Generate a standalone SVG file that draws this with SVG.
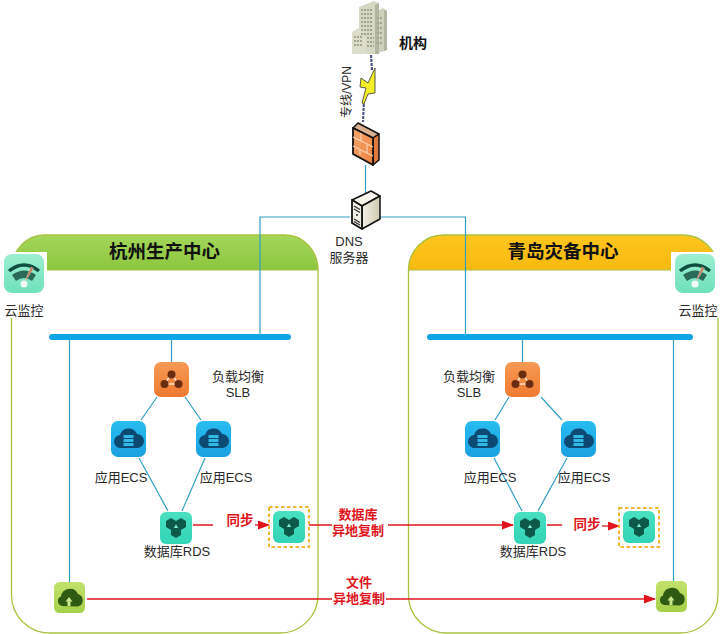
<svg xmlns="http://www.w3.org/2000/svg" width="720" height="634" viewBox="0 0 720 634">
<style>
text{font-family:"Liberation Sans","Noto Sans CJK SC",sans-serif;font-size:13px;fill:#2a2a2a;text-anchor:middle}
.h{font-size:18.5px;font-weight:700;fill:#111}
.r{font-size:13px;font-weight:700;fill:#e0141c}
.box{fill:none;stroke:#a9c23f;stroke-width:1.3}
.c{fill:none;stroke:#2f9fc4;stroke-width:1.2}
.bus{stroke:#0ea5e6;stroke-width:6;stroke-linecap:round}
.red{fill:none;stroke:#dd1a1f;stroke-width:1.3}
.arrow{fill:none;stroke:#dd1a1f;stroke-width:1.3;marker-end:url(#ah)}
.dash{fill:none;stroke:#f2b632;stroke-width:2;stroke-dasharray:3.5 2.5}
</style>
<defs>
<marker id="ah" markerUnits="userSpaceOnUse" markerWidth="12" markerHeight="9" refX="11" refY="4.5" orient="auto"><path d="M0 0L12 4.5L0 9z" fill="#e0141c"/></marker>
<linearGradient id="gG" x1="0" y1="0" x2="0" y2="1"><stop offset="0" stop-color="#a4d65a"/><stop offset="1" stop-color="#8cc63f"/></linearGradient>
<linearGradient id="gY" x1="0" y1="0" x2="0" y2="1"><stop offset="0" stop-color="#ffc61e"/><stop offset="1" stop-color="#f7b90f"/></linearGradient>
<linearGradient id="gO" x1="0" y1="0" x2="0" y2="1"><stop offset="0" stop-color="#f79a55"/><stop offset="1" stop-color="#ef7a30"/></linearGradient>
<linearGradient id="gB" x1="0" y1="0" x2="0" y2="1"><stop offset="0" stop-color="#29bdf0"/><stop offset="1" stop-color="#1aa0e0"/></linearGradient>
<linearGradient id="gT" x1="0" y1="0" x2="0" y2="1"><stop offset="0" stop-color="#48e0c0"/><stop offset="1" stop-color="#33d4b8"/></linearGradient>
<linearGradient id="gL" x1="0" y1="0" x2="0" y2="1"><stop offset="0" stop-color="#c2e26c"/><stop offset="1" stop-color="#a5d04a"/></linearGradient>
<linearGradient id="gM" x1="0" y1="0" x2="0" y2="1"><stop offset="0" stop-color="#9cefd0"/><stop offset="1" stop-color="#6fe0bc"/></linearGradient>
<linearGradient id="gF" x1="0" y1="0" x2="1" y2="1"><stop offset="0" stop-color="#f6a56c"/><stop offset="1" stop-color="#ee8240"/></linearGradient>
<linearGradient id="gS" x1="0" y1="0" x2="1" y2="0"><stop offset="0" stop-color="#f3f1e6"/><stop offset="1" stop-color="#cfc9b0"/></linearGradient>
<symbol id="slb" viewBox="0 0 35 35" overflow="visible">
<rect width="35" height="35" rx="7" fill="url(#gO)"/>
<path d="M17.500 12L10.500 22H24.500z" fill="none" stroke="#fbe3d2" stroke-width="1.500"/>
<circle cx="17.500" cy="12.500" r="4" fill="#6b2c10"/><circle cx="10.500" cy="22" r="4" fill="#6b2c10"/><circle cx="24.500" cy="22" r="4" fill="#6b2c10"/>
</symbol>
<symbol id="ecs" viewBox="0 0 35 36" overflow="visible">
<rect width="35" height="36" rx="7" fill="url(#gB)"/>
<path d="M10 27a6.500 6.500 0 0 1-1-13a9 9 0 0 1 17-1a7 7 0 0 1 0 14z" fill="#0d4a73"/>
<path d="M12.500 14h10v3h-10zM12.500 18h10v3h-10zM12.500 22h10v3h-10z" fill="#31b9e8"/>
</symbol>
<symbol id="rds" viewBox="0 0 32 32" overflow="visible">
<rect width="32" height="32" rx="6" fill="url(#gT)"/>
<path d="M11 6l5 3v6l-5 3-5-3V9zM21 6l5 3v6l-5 3-5-3V9zM16 14l5 3v6l-5 3-5-3v-6z" fill="#0e5a4a"/>
<path d="M16 12.500l2.200 3.500h-4.400z" fill="#7fead2"/>
</symbol>
<symbol id="oss" viewBox="0 0 31 31" overflow="visible">
<rect width="31" height="31" rx="5.500" fill="url(#gL)"/>
<path d="M8 24a5 5 0 0 1-1-9.500a9 9 0 0 1 17-2.500a6.500 6.500 0 0 1 0 12.500z" fill="#2f5a12"/>
<path d="M15 15l3.500 4.500h-2v4.500h-3v-4.500h-2z" fill="#c8e68a"/>
</symbol>
<symbol id="mon" viewBox="0 0 40 40" overflow="visible">
<rect width="40" height="39" rx="8" fill="url(#gM)"/>
<path d="M5 17Q20 5 35 17" fill="none" stroke="#0f4f3f" stroke-width="3.500"/>
<path d="M8 21Q20 12 32 21L28 27Q20 21 12 27z" fill="#2a6a58"/>
<path d="M20 29L27 13L29.500 14.500z" fill="#c9785a" stroke="#e8d0c0" stroke-width=".5"/>
<circle cx="20" cy="30" r="3.500" fill="#f3fbf7"/>
</symbol>
</defs>
<rect width="720" height="634" fill="#fff"/>

<g id="hangzhou">
<path d="M11.500 270A33 35 0 0 1 45 235H285A33 35 0 0 1 318 270z" fill="url(#gG)"/>
<path class="box" d="M45 235H285A33 35 0 0 1 318 270V595A38 38 0 0 1 280 633H50A38 38 0 0 1 11.500 595V270A33 35 0 0 1 45 235z"/>
<path d="M11.500 270H318" stroke="#a9c23f" stroke-width="1"/>
<text class="h" x="164.500" y="258">杭州生产中心</text>
</g>
<g id="qingdao">
<path d="M408.500 270A35 35 0 0 1 444 235H683A35 35 0 0 1 718 270z" fill="url(#gY)"/>
<path class="box" d="M444 235H683A35 35 0 0 1 718 270V595A38 38 0 0 1 680 633H447A38 38 0 0 1 408.500 595V270A35 35 0 0 1 444 235z"/>
<path d="M408.500 270H718" stroke="#a9c23f" stroke-width="1"/>
<text class="h" x="563" y="258">青岛灾备中心</text>
</g>

<g id="connectors">
<path class="c" d="M365.500 165V195M350 217H260V337M380 217H465.500V337"/>
<path d="M371 55L372 70M364 100L363 122" fill="none" stroke="#4f5488" stroke-width="2.200" stroke-dasharray="3 1"/>
<path class="c" d="M171.500 340V362M157 397L141 420M185 397L201 420M139 458L168 511M205 458L182 511M69.500 340V582"/>
<path class="c" d="M522.500 340V362M509 397L495 420M541 397L562 420M494 458L522 511M567 458L538 511M673.500 340V581"/>
<path class="bus" d="M52 337H288M430 337H690"/>
<path class="red" d="M193 525H213M309 525H332M388 525H400M87 599H332M386 599H400M547 525H562"/>
<path class="arrow" d="M255 525H269"/>
<path class="arrow" d="M400 525H513"/>
<path class="arrow" d="M400 599H655"/>
<path class="arrow" d="M602 526H619"/>
</g>

<g id="building">
<path d="M359 7L374 1L379 3V54H359z" fill="#d6d8c4"/>
<path d="M375 12L383 8L387 11V50L375 54z" fill="#cfd1bd"/>
<path d="M352 32L360 27L366 29V54H352z" fill="#dcdecb"/>
<path d="M379 3V54H375V5z" fill="#b3b5a3"/>
<path d="M384 10L387 11V50L384 51z" fill="#b3b5a3"/>
<path d="M361 10h12M361 14h12M361 18h12M361 22h12M361 26h12M361 30h12M361 34h12M367 38h7M367 42h7M367 46h7M354 37h9M354 41h9M354 45h9M377 18h6M377 23h6M377 28h6M377 33h6M377 38h6M377 43h6" stroke="#a2a591" stroke-width="1.800" stroke-dasharray="2 1"/>
<text x="413" y="48" style="font-size:14px;font-weight:700;fill:#111">机构</text>
</g>
<g id="link-label">
<path d="M375 68L375 93L368 94L364 104L362 103L366 88L360 87L361 78L368 83z" fill="#f4ee28" stroke="#333" stroke-width=".8"/>
<text transform="translate(351 92) rotate(-90)" x="0" y="0" style="font-size:12px">专线/VPN</text>
</g>
<g id="firewall">
<path d="M353 128L358 123L379 134L373 138z" fill="#d9b090" stroke="#111" stroke-width="1.500" stroke-linejoin="round"/>
<path d="M373 138L379 134V160L373 165z" fill="#e07a3c" stroke="#111" stroke-width="1.500" stroke-linejoin="round"/>
<path d="M353 128L373 138V165L353 154z" fill="url(#gF)" stroke="#111" stroke-width="1.800" stroke-linejoin="round"/>
<path d="M353 137L373 147M353 146L373 156M361 133V141M367 145V153M360 150V155" stroke="#f9d2b6" stroke-width="1.200" fill="none"/>
</g>
<g id="dns">
<path d="M352 200L371 191L380 196L362 206z" fill="#f6f4ea" stroke="#111" stroke-width="1.500" stroke-linejoin="round"/>
<path d="M362 206L380 196V219L362 229z" fill="url(#gS)" stroke="#111" stroke-width="1.500" stroke-linejoin="round"/>
<path d="M352 200L362 206V229L352 223z" fill="#f2efe4" stroke="#111" stroke-width="1.800" stroke-linejoin="round"/>
<path d="M354 206L360 209.500M354 209L360 212.500M354 219L360 222.500M354 221.500L360 225" stroke="#333" stroke-width="1.400"/>
<circle cx="357" cy="215" r="1" fill="#333"/>
<text x="349" y="246">DNS<tspan x="349" dy="16">服务器</tspan></text>
</g>

<g id="monitor-left">
<rect x="0" y="252" width="47" height="66" fill="#fff"/>
<use href="#mon" x="4" y="254" width="40" height="40"/>
<text x="24" y="315">云监控</text>
</g>
<g id="monitor-right">
<rect x="671" y="252" width="49" height="66" fill="#fff"/>
<use href="#mon" x="675" y="254" width="40" height="40"/>
<text x="698" y="315">云监控</text>
</g>

<g id="slb-left"><use href="#slb" x="154" y="362" width="35" height="35"/><text x="238" y="381">负载均衡<tspan x="238" dy="16">SLB</tspan></text></g>
<g id="ecs-left-1"><use href="#ecs" x="111" y="421" width="35" height="36"/><text x="121" y="482">应用ECS</text></g>
<g id="ecs-left-2"><use href="#ecs" x="196" y="421" width="35" height="36"/><text x="226" y="482">应用ECS</text></g>
<g id="rds-left"><use href="#rds" x="160" y="512" width="32" height="32"/><text x="177" y="556">数据库RDS</text></g>
<g id="rds-left-backup"><rect class="dash" x="269" y="507" width="40" height="40"/><use href="#rds" x="273" y="511" width="32" height="32"/></g>
<g id="oss-left"><use href="#oss" x="54" y="582" width="31" height="31"/></g>

<g id="slb-right"><use href="#slb" x="505" y="362" width="35" height="35"/><text x="469" y="381">负载均衡<tspan x="469" dy="16">SLB</tspan></text></g>
<g id="ecs-right-1"><use href="#ecs" x="465" y="421" width="35" height="36"/><text x="490" y="482">应用ECS</text></g>
<g id="ecs-right-2"><use href="#ecs" x="561" y="421" width="35" height="36"/><text x="584" y="482">应用ECS</text></g>
<g id="rds-right"><use href="#rds" x="514" y="512" width="32" height="32"/><text x="533" y="556">数据库RDS</text></g>
<g id="rds-right-backup"><rect class="dash" x="619" y="508" width="40" height="39"/><use href="#rds" x="623" y="511" width="32" height="32"/></g>
<g id="oss-right"><use href="#oss" x="656" y="581" width="31" height="31"/></g>

<g id="red-labels">
<text class="r" x="240" y="525" style="font-size:13.500px">同步</text>
<text class="r" x="587" y="529" style="font-size:13.500px">同步</text>
<text class="r" x="358" y="519">数据库<tspan x="358" dy="16">异地复制</tspan></text>
<text class="r" x="359" y="587">文件<tspan x="359" dy="16">异地复制</tspan></text>
</g>
</svg>
